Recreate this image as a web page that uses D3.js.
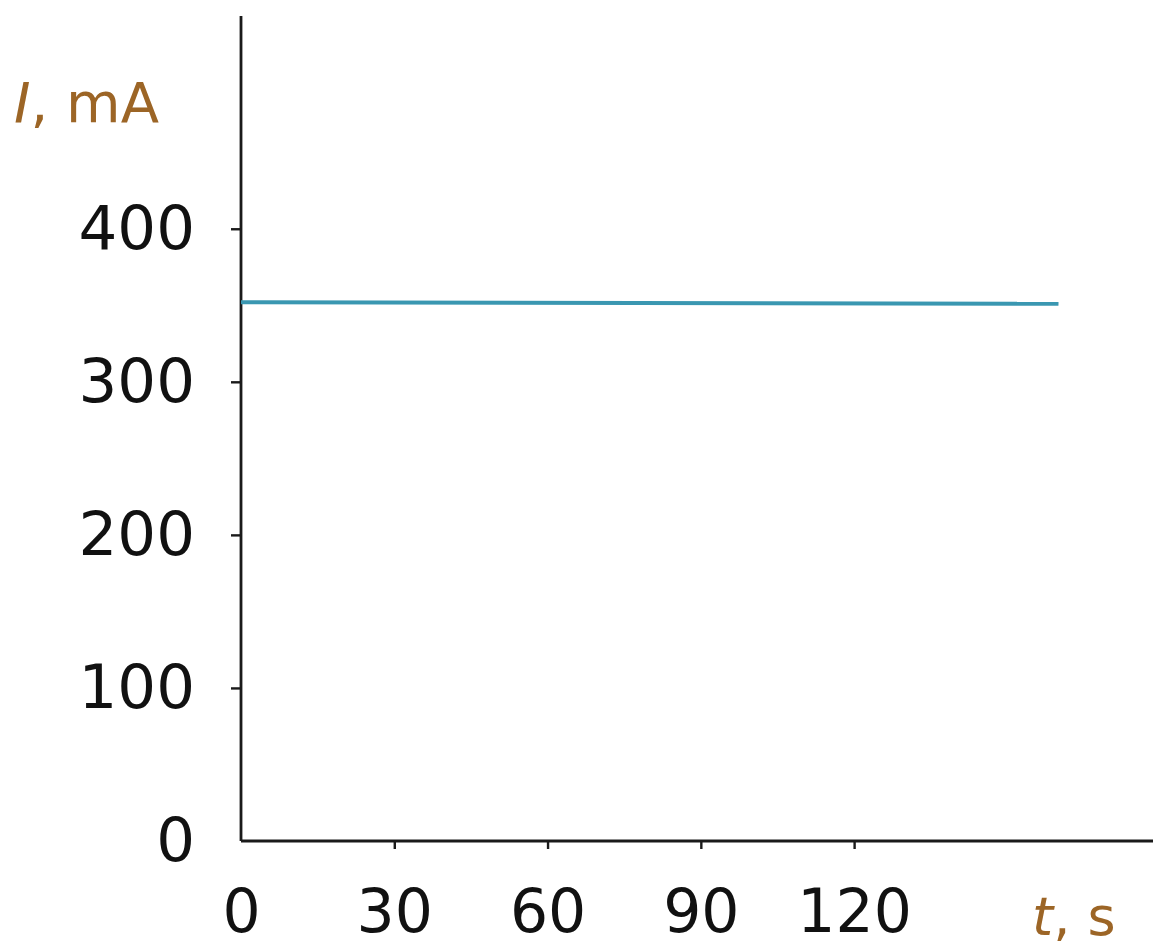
<!DOCTYPE html>
<html>
<head>
<meta charset="utf-8">
<script src="https://cdn.jsdelivr.net/npm/d3@7"></script>
<style>
  html, body { margin: 0; padding: 0; background: #fff; }
  svg { display: block; }
  text { font-family: "DejaVu Sans", Verdana, sans-serif; }
</style>
</head>
<body>
<svg id="chart" width="1153" height="944"></svg>
<script>
// Data
const timeS = [0, 160];
const currentMA = [352, 351];
const xTickValues = [0, 30, 60, 90, 120];
const yTickValues = [0, 100, 200, 300, 400];
const xLabel = ["t", ", s"];
const yLabel = ["I", ", mA"];

const svg = d3.select("#chart");

const x = d3.scaleLinear().domain([0, 178.5]).range([241, 1153]);
const y = d3.scaleLinear().domain([0, 539]).range([841, 16]);

const axisColor = "#1a1a1a";
const labelColor = "#9c6526";

// Y axis
const yAxis = svg.append("g")
  .attr("transform", `translate(${x(0)},0)`)
  .call(d3.axisLeft(y).tickValues(yTickValues).tickSize(10).tickPadding(36).tickFormat(d3.format("d")));
yAxis.select(".domain").attr("d", `M0,${y(0)}V${y.range()[1]}`).attr("stroke", axisColor).attr("stroke-width", 2.8);
yAxis.selectAll(".tick line").attr("stroke", axisColor).attr("stroke-width", 2.4)
  .attr("display", d => d === 0 ? "none" : null);
yAxis.selectAll(".tick text").attr("fill", "#111").attr("font-size", 61)
  .attr("font-family", "DejaVu Sans, Verdana, sans-serif");

// X axis
const xAxis = svg.append("g")
  .attr("transform", `translate(0,${y(0)})`)
  .call(d3.axisBottom(x).tickValues(xTickValues).tickSize(8).tickPadding(40).tickFormat(d3.format("d")));
xAxis.select(".domain").attr("d", `M${x(0)},0H${x.range()[1]}`).attr("stroke", axisColor).attr("stroke-width", 2.8);
xAxis.selectAll(".tick line").attr("stroke", axisColor).attr("stroke-width", 2.4)
  .attr("display", d => d === 0 ? "none" : null);
xAxis.selectAll(".tick text").attr("fill", "#111").attr("font-size", 60)
  .attr("font-family", "DejaVu Sans, Verdana, sans-serif");

// Line
const line = d3.line().x((d, i) => x(timeS[i])).y(d => y(d));
svg.append("path")
  .datum(currentMA)
  .attr("d", line)
  .attr("fill", "none")
  .attr("stroke", "#3a97b1")
  .attr("stroke-width", 4);

// Axis labels
const yl = svg.append("text").attr("x", 14).attr("y", 122)
  .attr("font-size", 56).attr("fill", labelColor);
yl.append("tspan").attr("font-style", "italic").text(yLabel[0]);
yl.append("tspan").text(yLabel[1]);

const xl = svg.append("text").attr("x", 1032).attr("y", 935)
  .attr("font-size", 54).attr("fill", labelColor);
xl.append("tspan").attr("font-style", "italic").text(xLabel[0]);
xl.append("tspan").text(xLabel[1]);
</script>
</body>
</html>
